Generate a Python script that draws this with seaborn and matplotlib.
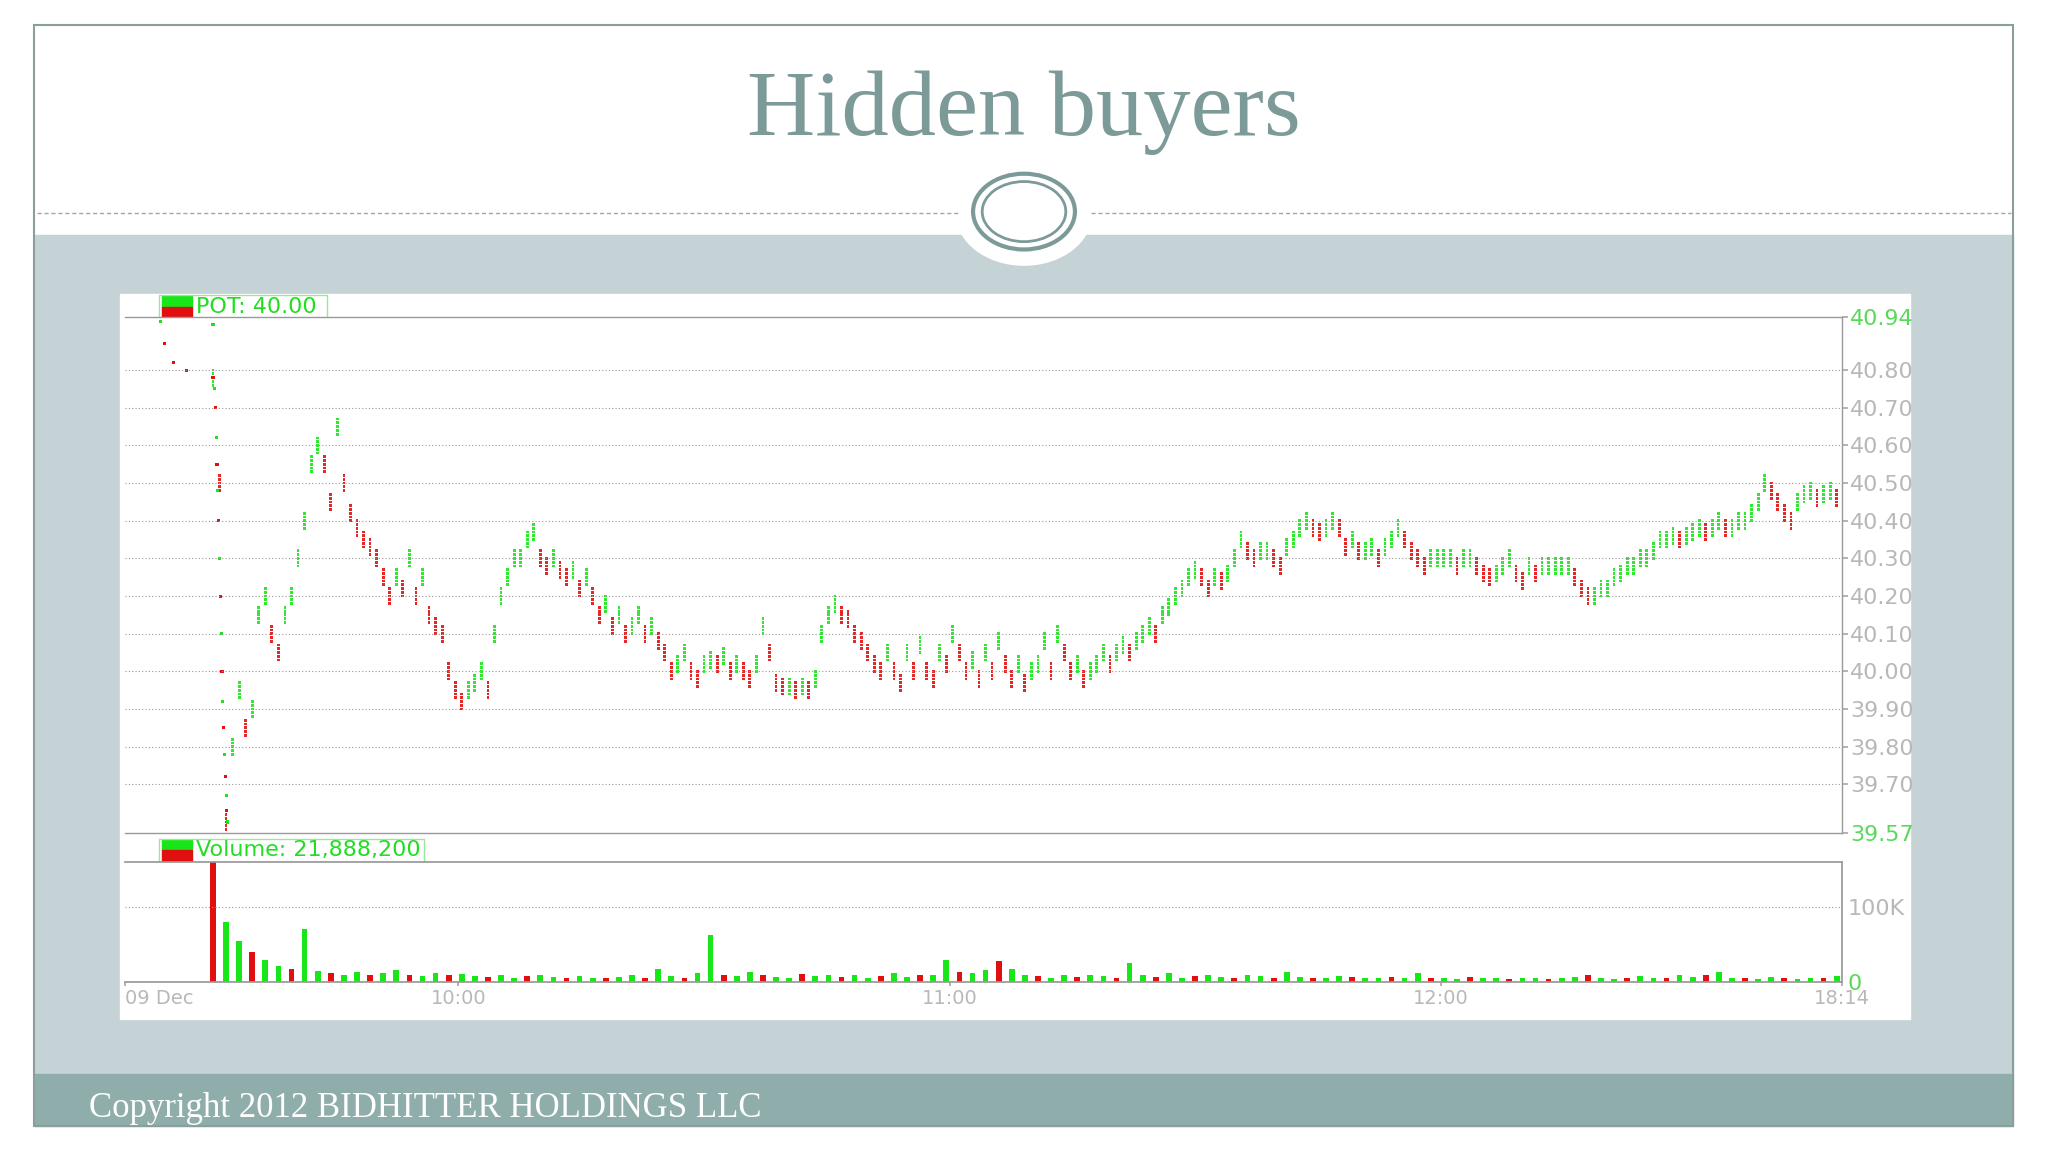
"""Hidden buyers slide: POT intraday dot chart with volume bars."""

import matplotlib.pyplot as plt
import numpy as np
import pandas as pd
import seaborn as sns
from matplotlib.patches import Ellipse, Rectangle

# pre-open prints (minutes after 9:30, price)
pre_min = [-6.4, -5.9, -4.8, -3.2, 0.0, 0.0]
pre_px = [40.93, 40.87, 40.82, 40.80, 40.92, 40.78]

# opening sweep prints (minutes after 9:30, price)
open_min = [0.2, 0.3, 0.4, 0.5, 0.6, 0.7, 0.8, 0.9, 1.0, 1.1, 1.2, 1.3, 1.4, 1.5, 1.6, 1.7, 1.8]
open_px = [40.75, 40.70, 40.62, 40.55, 40.48, 40.40, 40.30, 40.20, 40.10, 40.00, 39.92,
           39.85, 39.78, 39.72, 39.67, 39.63, 39.60]

# regular session, one sample every 0.8 minutes from 9:30
price = [
    40.78, 40.50, 39.60, 39.80, 39.95, 39.85, 39.90, 40.15, 40.20, 40.10,
    40.05, 40.15, 40.20, 40.30, 40.40, 40.55, 40.60, 40.55, 40.45, 40.65,
    40.50, 40.42, 40.38, 40.35, 40.33, 40.30, 40.25, 40.20, 40.25, 40.22,
    40.30, 40.20, 40.25, 40.15, 40.12, 40.10, 40.00, 39.95, 39.92, 39.95,
    39.97, 40.00, 39.95, 40.10, 40.20, 40.25, 40.30, 40.30, 40.35, 40.37,
    40.30, 40.28, 40.30, 40.27, 40.25, 40.27, 40.22, 40.25, 40.20, 40.15,
    40.18, 40.12, 40.15, 40.10, 40.12, 40.15, 40.10, 40.12, 40.08, 40.05,
    40.00, 40.02, 40.05, 40.00, 39.98, 40.02, 40.03, 40.02, 40.04, 40.00,
    40.02, 40.00, 39.98, 40.02, 40.12, 40.05, 39.97, 39.96, 39.96, 39.95,
    39.96, 39.95, 39.98, 40.10, 40.15, 40.18, 40.15, 40.14, 40.10, 40.08,
    40.05, 40.02, 40.00, 40.05, 40.00, 39.97, 40.05, 40.00, 40.07, 40.00,
    39.98, 40.05, 40.02, 40.10, 40.05, 40.00, 40.03, 39.98, 40.05, 40.00,
    40.08, 40.02, 39.98, 40.02, 39.97, 40.00, 40.02, 40.08, 40.00, 40.10,
    40.05, 40.00, 40.02, 39.98, 40.00, 40.02, 40.05, 40.02, 40.05, 40.07,
    40.05, 40.08, 40.10, 40.12, 40.10, 40.15, 40.17, 40.20, 40.22, 40.25,
    40.27, 40.25, 40.22, 40.25, 40.24, 40.26, 40.30, 40.35, 40.32, 40.30,
    40.32, 40.32, 40.30, 40.28, 40.33, 40.35, 40.38, 40.40, 40.38, 40.37,
    40.38, 40.40, 40.38, 40.33, 40.35, 40.32, 40.32, 40.33, 40.30, 40.33,
    40.35, 40.38, 40.35, 40.32, 40.30, 40.28, 40.30, 40.30, 40.30, 40.30,
    40.28, 40.30, 40.30, 40.28, 40.26, 40.25, 40.26, 40.28, 40.30, 40.26,
    40.24, 40.28, 40.26, 40.28, 40.28, 40.28, 40.28, 40.28, 40.25, 40.22,
    40.20, 40.20, 40.22, 40.22, 40.25, 40.26, 40.28, 40.28, 40.30, 40.30,
    40.32, 40.35, 40.35, 40.36, 40.35, 40.36, 40.37, 40.38, 40.37, 40.38,
    40.40, 40.38, 40.38, 40.40, 40.40, 40.42, 40.45, 40.50, 40.48, 40.45,
    40.42, 40.40, 40.45, 40.47, 40.48, 40.46, 40.47, 40.48, 40.46, 40.45,
    40.42, 40.46, 40.44, 40.44,
]

# volume in thousands, one bar every 1.6 minutes from 9:30
volume = [
    160, 80, 55, 40, 30, 22, 18, 70, 15, 12,
    10, 14, 9, 12, 16, 10, 8, 12, 9, 11,
    8, 7, 10, 6, 8, 9, 7, 6, 8, 5,
    6, 7, 9, 5, 18, 8, 6, 12, 62, 10,
    8, 14, 9, 7, 6, 11, 8, 10, 7, 9,
    6, 8, 12, 7, 9, 10, 30, 14, 12, 16,
    28, 18, 10, 8, 6, 9, 7, 10, 8, 6,
    25, 9, 7, 12, 6, 8, 10, 7, 5, 9,
    8, 6, 14, 7, 6, 5, 8, 7, 6, 5,
    7, 6, 12, 5, 6, 4, 7, 5, 6, 4,
    5, 6, 4, 5, 7, 9, 5, 4, 6, 8,
    5, 6, 10, 7, 9, 14, 6, 5, 4, 7,
    5, 4, 6, 5, 8,
]

tick_pos = [-10.7, 30, 90, 150, 199]
tick_lab = ["09 Dec", "10:00", "11:00", "12:00", "18:14"]
ygrid = [39.70, 39.80, 39.90, 40.00, 40.10, 40.20, 40.30, 40.40, 40.50, 40.60, 40.70, 40.80]

GREEN = "#19e619"
RED = "#e01010"
TEAL = "#7c9a98"

sns.set_theme(style="white")
plt.rcParams["font.family"] = ["DejaVu Sans"]

fig = plt.figure(figsize=(20.48, 11.52), dpi=100)
W, H = 1568, 882


def box(x0, y0, x1, y1):
    return [x0 / W, 1 - y1 / H, (x1 - x0) / W, (y1 - y0) / H]


bg = fig.add_axes([0, 0, 1, 1])
bg.set_xlim(0, W)
bg.set_ylim(H, 0)
bg.axis("off")
bg.add_patch(Rectangle((26, 180), 1515, 642, color="#c5d2d6"))
bg.add_patch(Rectangle((26, 822), 1515, 40, color="#8fadaa"))
bg.add_patch(Rectangle((26, 19), 1515, 843, fill=False, ec="#8a9e9e", lw=1.5))
bg.add_patch(Rectangle((92, 225), 1370, 555, color="white"))
bg.plot([28, 735], [163, 163], ls=(0, (3, 2)), color="#9aaaaa", lw=1)
bg.plot([835, 1540], [163, 163], ls=(0, (3, 2)), color="#9aaaaa", lw=1)
bg.add_patch(Ellipse((784, 163), 104, 80, color="white"))
bg.add_patch(Ellipse((784, 162), 78, 58, fill=False, ec=TEAL, lw=3))
bg.add_patch(Ellipse((784, 162), 64, 46, fill=False, ec=TEAL, lw=2))
bg.text(784, 86, "Hidden buyers", ha="center", va="center", fontsize=68,
        color=TEAL, family="Liberation Serif")
bg.text(68, 849, "Copyright 2012 BIDHITTER HOLDINGS LLC", ha="left", va="center",
        fontsize=25, color="white", family="Liberation Serif")

# price panel
ax = fig.add_axes(box(96, 243, 1410, 638))
t = np.arange(len(price)) * 0.8
p = np.array(price)
up = np.r_[True, np.diff(p) >= 0]
df = pd.DataFrame({"t": t, "price": p, "dir": np.where(up, "up", "down")})
for off in (-0.02, -0.01, 0.0, 0.01, 0.02):
    sns.scatterplot(data=df.assign(price=df.price + off), x="t", y="price", hue="dir",
                    palette={"up": GREEN, "down": RED}, marker="s", s=4,
                    linewidth=0, legend=False, ax=ax, alpha=0.9)
ax.scatter(pre_min, pre_px, s=5, marker="s", c=[GREEN, RED, RED, RED, GREEN, RED], lw=0)
ax.scatter(open_min, open_px, s=5, marker="s",
           c=[RED if i % 2 else GREEN for i in range(len(open_px))], lw=0)
ax.set_xlim(-10.7, 199)
ax.set_ylim(39.57, 40.94)
for g in ygrid:
    ax.axhline(g, color="#999999", lw=0.8, ls=(0, (1, 2)))
ax.yaxis.tick_right()
ax.set_yticks([39.57] + ygrid + [40.94])
ax.set_yticklabels(["39.57"] + [f"{g:.2f}" for g in ygrid] + ["40.94"], fontsize=16)
for lbl in ax.get_yticklabels():
    lbl.set_color("#b8b8b8")
ax.get_yticklabels()[0].set_color("#5ad85a")
ax.get_yticklabels()[-1].set_color("#5ad85a")
ax.tick_params(axis="y", length=4, pad=2, right=True, color="#aaaaaa")
ax.set_xticks([])
ax.set_xlabel("")
ax.set_ylabel("")
for s in ax.spines.values():
    s.set_visible(False)
for s in ("top", "bottom", "right"):
    ax.spines[s].set_visible(True)
    ax.spines[s].set_color("#999999")
    ax.spines[s].set_linewidth(1)

# volume panel
vx = fig.add_axes(box(96, 660, 1410, 752))
vt = np.arange(len(volume)) * 1.6
vdir = [GREEN if i % 3 else RED for i in range(len(volume))]
vx.bar(vt, volume, width=0.7, color=vdir, linewidth=0)
vx.set_xlim(-10.7, 199)
vx.set_ylim(0, 159)
vx.axhline(100, color="#999999", lw=0.8, ls=(0, (1, 2)))
vx.yaxis.tick_right()
vx.set_yticks([0, 100])
vx.set_yticklabels(["0", "100K"], fontsize=16)
vx.get_yticklabels()[0].set_color("#5ad85a")
vx.get_yticklabels()[1].set_color("#b8b8b8")
vx.tick_params(axis="y", length=0, pad=4)
vx.set_xticks(tick_pos)
vx.set_xticklabels(tick_lab, fontsize=14, color="#b8b8b8")
vx.get_xticklabels()[0].set_ha("left")
vx.tick_params(axis="x", length=3, pad=2, bottom=True, color="#aaaaaa")
for s in vx.spines.values():
    s.set_visible(False)
for s in ("top", "bottom", "right"):
    vx.spines[s].set_visible(True)
    vx.spines[s].set_color("#999999")

# legend tags
for y0, label, x1 in ((226, "POT: 40.00", 250), (642, "Volume: 21,888,200", 325)):
    bg.add_patch(Rectangle((124, y0 + 1), 23, 8, color=GREEN))
    bg.add_patch(Rectangle((124, y0 + 9), 23, 8, color=RED))
    bg.add_patch(Rectangle((122, y0), x1 - 122, 18, fill=False, ec="#9be89b", lw=1))
    bg.text(150, y0 + 9, label, fontsize=16, color="#22dd22", va="center")

fig.savefig("out.png", dpi=100)
